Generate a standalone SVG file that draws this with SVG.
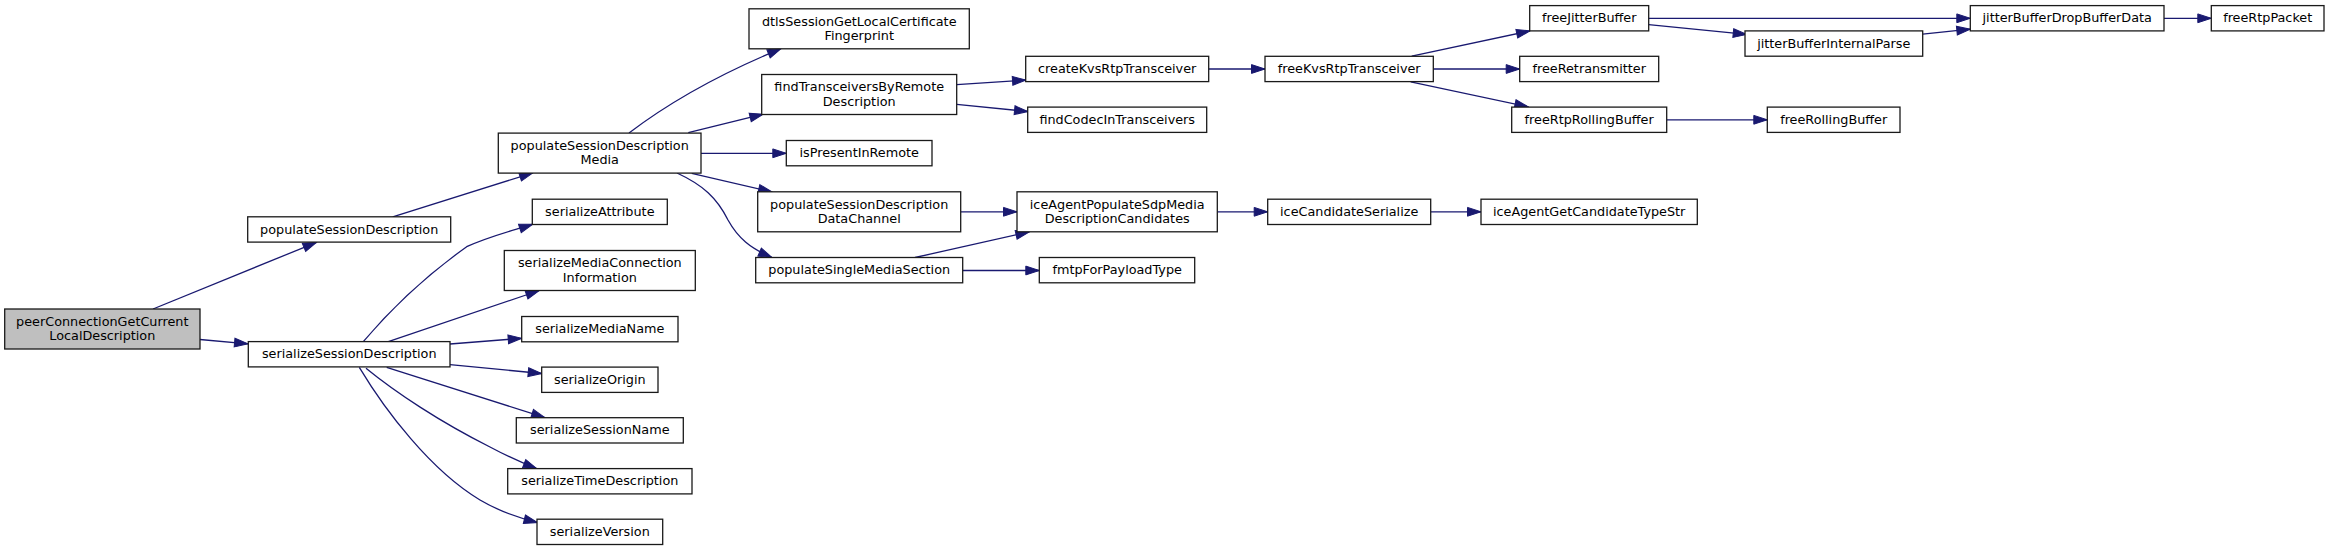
<svg xmlns="http://www.w3.org/2000/svg" width="2329" height="551" viewBox="0 0 2329 551">
<defs>
<style>
.n rect{fill:#ffffff;stroke:#1a1a1a;stroke-width:1.3}
.n.root rect{fill:#bfbfbf}
.n text{font-family:"DejaVu Sans","Liberation Sans",sans-serif;font-size:12.8px;fill:#000000;text-anchor:middle}
.e path,.e line{fill:none;stroke:#191970;stroke-width:1.3;marker-end:url(#ah)}
</style>
<marker id="ah" markerUnits="userSpaceOnUse" markerWidth="16" markerHeight="12" refX="13.5" refY="5" orient="auto" viewBox="-1 -1 16 12">
<path d="M0,0.6 L13.5,5 L0,9.4 Z" fill="#191970" stroke="#191970" stroke-width="1"/>
</marker>
</defs>
<rect width="2329" height="551" fill="#ffffff"/>
<g id="edges" class="e">
<line x1="153" y1="309" x2="316.5" y2="242.3"/>
<line x1="200" y1="339.5" x2="248" y2="343.8"/>
<line x1="392.7" y1="216.8" x2="533" y2="172.8"/>
<path d="M629,133 C658,111 705,80 781,48.7"/>
<line x1="688.3" y1="132.7" x2="763.3" y2="114.2"/>
<line x1="701" y1="153.3" x2="786.3" y2="153.3"/>
<line x1="691.7" y1="173.3" x2="772" y2="192"/>
<path d="M677,173 C703,185 717,198 728,220 C738,238 750,248 772,257.5"/>
<line x1="956.7" y1="84.7" x2="1026" y2="80"/>
<line x1="956.7" y1="104.3" x2="1028" y2="111.5"/>
<line x1="1208.7" y1="69" x2="1265" y2="69"/>
<line x1="1411.7" y1="56.2" x2="1530" y2="30.9"/>
<line x1="1433.3" y1="69" x2="1519.7" y2="69"/>
<line x1="1410.7" y1="81.9" x2="1528.3" y2="106.8"/>
<line x1="1648.7" y1="18.3" x2="1970.3" y2="18.3"/>
<line x1="1648.7" y1="24.6" x2="1746.7" y2="34.4"/>
<line x1="1922.7" y1="34.1" x2="1970.3" y2="29.2"/>
<line x1="2164" y1="18.3" x2="2211.3" y2="18.3"/>
<line x1="1666.7" y1="119.8" x2="1767.3" y2="119.8"/>
<line x1="960.7" y1="211.8" x2="1017" y2="211.8"/>
<line x1="915" y1="257.5" x2="1029.3" y2="231.9"/>
<line x1="962.7" y1="270.5" x2="1039.3" y2="270.5"/>
<line x1="1217.3" y1="211.8" x2="1267.7" y2="211.8"/>
<line x1="1430.7" y1="211.8" x2="1481" y2="211.8"/>
<path d="M363.3,341.7 C385,316 420,280 466.7,246.7 C490,236 515,230 532.7,224.2"/>
<line x1="388.3" y1="341.7" x2="539.3" y2="290.5"/>
<line x1="450" y1="344" x2="521.7" y2="338.3"/>
<line x1="450" y1="364.7" x2="541.7" y2="373.5"/>
<line x1="386.7" y1="367.3" x2="545" y2="417.7"/>
<path d="M366,368.3 C395,392 440,422 490,447 C505,455 520,462 536.7,468.6"/>
<path d="M359.3,367.3 C385,410 430,470 480,500 C497,510 515,517 537.5,522.5"/>
</g>
<g id="peerConnectionGetCurrentLocalDescription" class="n root"><rect x="4.7" y="309" width="195.3" height="40"/><text x="102.3" y="325.8">peerConnectionGetCurrent</text><text x="102.3" y="340.2">LocalDescription</text></g>
<g id="populateSessionDescription" class="n"><rect x="247.7" y="216.8" width="203" height="25.3"/><text x="349.2" y="233.5">populateSessionDescription</text></g>
<g id="serializeSessionDescription" class="n"><rect x="248.3" y="341.6" width="201.7" height="25.3"/><text x="349.2" y="358.3">serializeSessionDescription</text></g>
<g id="populateSessionDescriptionMedia" class="n"><rect x="498.3" y="133.1" width="202.7" height="40"/><text x="599.7" y="149.9">populateSessionDescription</text><text x="599.7" y="164.3">Media</text></g>
<g id="serializeAttribute" class="n"><rect x="532.3" y="199.2" width="135" height="25.3"/><text x="599.8" y="215.9">serializeAttribute</text></g>
<g id="serializeMediaConnectionInformation" class="n"><rect x="504.3" y="250.5" width="191" height="40"/><text x="599.8" y="267.3">serializeMediaConnection</text><text x="599.8" y="281.7">Information</text></g>
<g id="serializeMediaName" class="n"><rect x="521.7" y="316.5" width="156.3" height="25.3"/><text x="599.8" y="333.2">serializeMediaName</text></g>
<g id="serializeOrigin" class="n"><rect x="541.7" y="367.1" width="116.3" height="25.3"/><text x="599.8" y="383.8">serializeOrigin</text></g>
<g id="serializeSessionName" class="n"><rect x="516.3" y="417.7" width="167" height="25.3"/><text x="599.8" y="434.4">serializeSessionName</text></g>
<g id="serializeTimeDescription" class="n"><rect x="507.7" y="468.6" width="184.3" height="25.3"/><text x="599.8" y="485.3">serializeTimeDescription</text></g>
<g id="serializeVersion" class="n"><rect x="537" y="519.2" width="125.7" height="25.3"/><text x="599.8" y="535.9">serializeVersion</text></g>
<g id="dtlsSessionGetLocalCertificateFingerprint" class="n"><rect x="749" y="8.8" width="220.3" height="40"/><text x="859.2" y="25.6">dtlsSessionGetLocalCertificate</text><text x="859.2" y="40">Fingerprint</text></g>
<g id="findTransceiversByRemoteDescription" class="n"><rect x="761.7" y="74.5" width="195" height="40"/><text x="859.2" y="91.3">findTransceiversByRemote</text><text x="859.2" y="105.7">Description</text></g>
<g id="isPresentInRemote" class="n"><rect x="786.3" y="140.5" width="145.7" height="25.3"/><text x="859.2" y="157.2">isPresentInRemote</text></g>
<g id="populateSessionDescriptionDataChannel" class="n"><rect x="757.7" y="191.8" width="203" height="40"/><text x="859.2" y="208.6">populateSessionDescription</text><text x="859.2" y="223">DataChannel</text></g>
<g id="populateSingleMediaSection" class="n"><rect x="755.7" y="257.5" width="207" height="25.3"/><text x="859.2" y="274.2">populateSingleMediaSection</text></g>
<g id="createKvsRtpTransceiver" class="n"><rect x="1025.7" y="56.3" width="183" height="25.3"/><text x="1117.2" y="73">createKvsRtpTransceiver</text></g>
<g id="findCodecInTransceivers" class="n"><rect x="1027.7" y="107.1" width="179" height="25.3"/><text x="1117.2" y="123.8">findCodecInTransceivers</text></g>
<g id="iceAgentPopulateSdpMediaDescriptionCandidates" class="n"><rect x="1017" y="191.8" width="200.3" height="40"/><text x="1117.2" y="208.6">iceAgentPopulateSdpMedia</text><text x="1117.2" y="223">DescriptionCandidates</text></g>
<g id="fmtpForPayloadType" class="n"><rect x="1039.3" y="257.5" width="155.4" height="25.3"/><text x="1117.2" y="274.2">fmtpForPayloadType</text></g>
<g id="freeKvsRtpTransceiver" class="n"><rect x="1265" y="56.3" width="168.3" height="25.3"/><text x="1349.2" y="73">freeKvsRtpTransceiver</text></g>
<g id="iceCandidateSerialize" class="n"><rect x="1267.7" y="199.2" width="163" height="25.3"/><text x="1349.2" y="215.9">iceCandidateSerialize</text></g>
<g id="freeJitterBuffer" class="n"><rect x="1529.7" y="5.6" width="119" height="25.3"/><text x="1589.2" y="22.3">freeJitterBuffer</text></g>
<g id="freeRetransmitter" class="n"><rect x="1519.7" y="56.3" width="139" height="25.3"/><text x="1589.2" y="73">freeRetransmitter</text></g>
<g id="freeRtpRollingBuffer" class="n"><rect x="1511.7" y="107.1" width="155" height="25.3"/><text x="1589.2" y="123.8">freeRtpRollingBuffer</text></g>
<g id="iceAgentGetCandidateTypeStr" class="n"><rect x="1481" y="199.2" width="216.3" height="25.3"/><text x="1589.2" y="215.9">iceAgentGetCandidateTypeStr</text></g>
<g id="jitterBufferInternalParse" class="n"><rect x="1745" y="30.9" width="177.7" height="25.3"/><text x="1833.8" y="47.6">jitterBufferInternalParse</text></g>
<g id="freeRollingBuffer" class="n"><rect x="1767.3" y="107.1" width="132.7" height="25.3"/><text x="1833.7" y="123.8">freeRollingBuffer</text></g>
<g id="jitterBufferDropBufferData" class="n"><rect x="1970.3" y="5.6" width="193.7" height="25.3"/><text x="2067.2" y="22.3">jitterBufferDropBufferData</text></g>
<g id="freeRtpPacket" class="n"><rect x="2211.3" y="5.6" width="112.7" height="25.3"/><text x="2267.7" y="22.3">freeRtpPacket</text></g>
</svg>
